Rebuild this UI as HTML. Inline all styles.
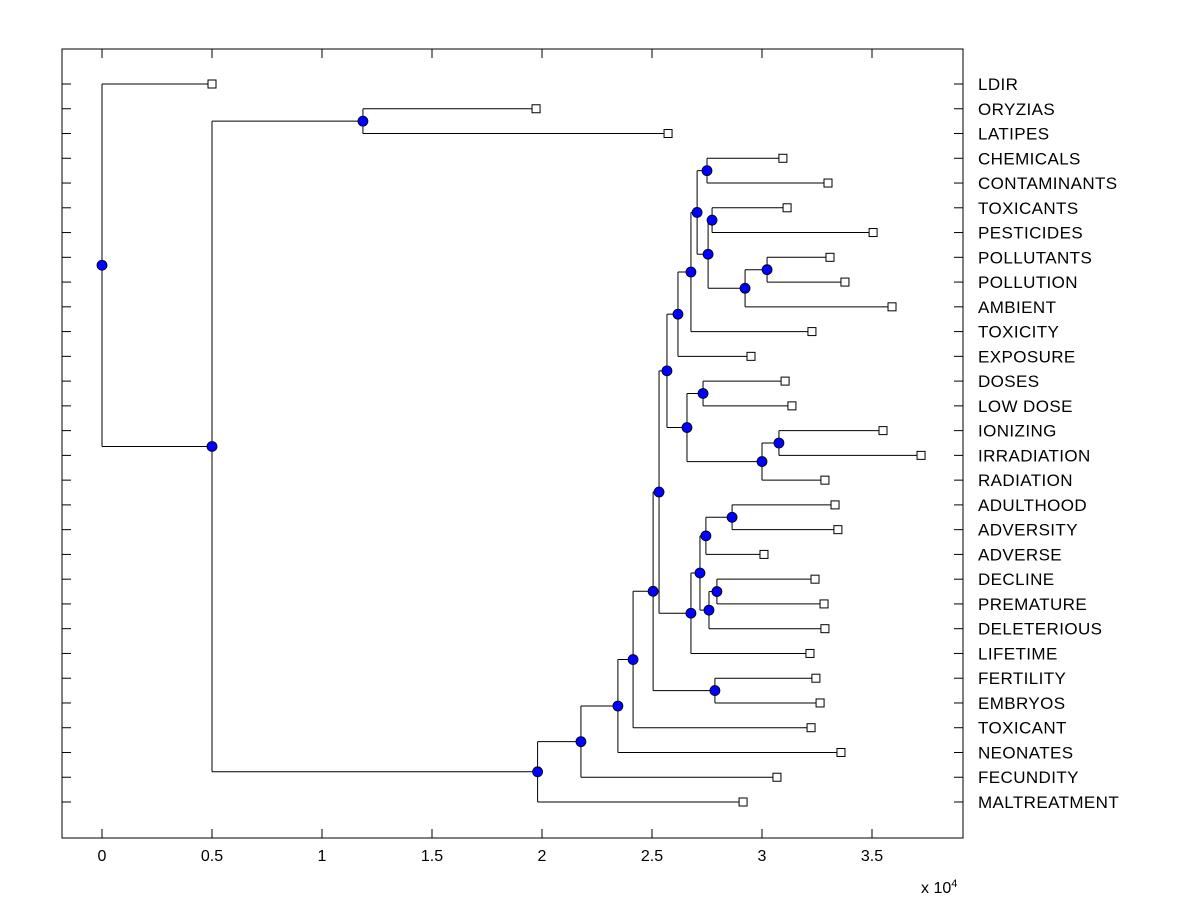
<!DOCTYPE html>
<html><head><meta charset="utf-8"><style>body{margin:0;background:#fff}svg{display:block}text{font-family:"Liberation Sans",sans-serif;font-size:16px;fill:#000}.lbl{font-size:17px;letter-spacing:0.4px}</style></head>
<body>
<svg id="c" width="1200" height="900"></svg>
<script>
const leaves=["LDIR","ORYZIAS","LATIPES","CHEMICALS","CONTAMINANTS","TOXICANTS","PESTICIDES","POLLUTANTS","POLLUTION","AMBIENT","TOXICITY","EXPOSURE","DOSES","LOW DOSE","IONIZING","IRRADIATION","RADIATION","ADULTHOOD","ADVERSITY","ADVERSE","DECLINE","PREMATURE","DELETERIOUS","LIFETIME","FERTILITY","EMBRYOS","TOXICANT","NEONATES","FECUNDITY","MALTREATMENT"];
const leafHeights=[0.5,1.973,2.573,3.095,3.3,3.114,3.505,3.309,3.377,3.591,3.227,2.95,3.105,3.136,3.55,3.723,3.286,3.332,3.345,3.009,3.241,3.282,3.286,3.218,3.245,3.264,3.223,3.359,3.068,2.914];
// internal nodes: name, child A, child B, height (x 10^4)
const nodeNames=["root","n1","n2","n3","n4","n5","n6","n7","n8","n9","n10","n11","n12","n13","n14","n15","n16","n17","n18","n19","n20","n21","n22","n23","n24","n25","n26","n27","n28"];
const nodeChildA=["LDIR","n2","ORYZIAS","n4","n5","n6","n7","n8","n10","FERTILITY","n12","n24","n14","n21","n15","n16","CHEMICALS","n18","TOXICANTS","n20","POLLUTANTS","DOSES","n23","IONIZING","n25","n27","n28","ADULTHOOD","DECLINE"];
const nodeChildB=["n1","n3","LATIPES","MALTREATMENT","FECUNDITY","NEONATES","TOXICANT","n9","n11","EMBRYOS","n13","LIFETIME","EXPOSURE","n22","TOXICITY","n17","CONTAMINANTS","n19","PESTICIDES","AMBIENT","POLLUTION","LOW DOSE","RADIATION","IRRADIATION","n26","ADVERSE","DELETERIOUS","ADVERSITY","PREMATURE"];
const nodeHeights=[0,0.5,1.186,1.98,2.177,2.345,2.414,2.505,2.532,2.786,2.568,2.677,2.618,2.659,2.677,2.705,2.75,2.755,2.773,2.923,3.023,2.732,3.0,3.077,2.718,2.745,2.759,2.864,2.795];
const xTicks=[0,0.5,1,1.5,2,2.5,3,3.5];

const NS="http://www.w3.org/2000/svg",svg=document.getElementById('c');
const L=62,R=963,T=49,B=838;
const xs=v=>102+v*220;
const ys=i=>84+i*(802-84)/(leaves.length-1);
function mk(t,a){const e=document.createElementNS(NS,t);for(const k in a)e.setAttribute(k,a[k]);svg.appendChild(e);return e;}
const frame=mk('rect',{x:L,y:T,width:R-L,height:B-T,fill:'none',stroke:'#000','stroke-width':1});


leaves.forEach((n,i)=>{const y=ys(i);
 const t1=mk('line',{x1:L,x2:L+9,y1:y,y2:y,stroke:'#000'});
 
 
 const t2=mk('line',{x1:R-9,x2:R,y1:y,y2:y,stroke:'#000'});
 
 
 const tx=mk('text',{x:978,y:y+6,'class':'lbl'});tx.textContent=n;
 
 
});
xTicks.forEach(v=>{const x=xs(v);
 const t=mk('line',{x1:x,x2:x,y1:B,y2:B-9,stroke:'#000'});
 
 
 const t3=mk('line',{x1:x,x2:x,y1:T,y2:T+9,stroke:'#000'});
 
 
 const tx=mk('text',{x:x,y:861,'text-anchor':'middle'});tx.textContent=String(v);
 
 
});
const ex=mk('text',{x:921,y:893,'font-size':'14'});ex.innerHTML='x 10<tspan dy="-6" font-size="11">4</tspan>';



const pos={};
leaves.forEach((n,i)=>pos[n]={x:xs(leafHeights[i]),y:ys(i),leaf:true});
function get(n){if(pos[n])return pos[n];const k=nodeNames.indexOf(n);const a=get(nodeChildA[k]),b=get(nodeChildB[k]);pos[n]={x:xs(nodeHeights[k]),y:(a.y+b.y)/2,a,b};return pos[n];}
nodeNames.forEach(get);
nodeNames.forEach(n=>{const p=pos[n];
 const v=mk('line',{x1:p.x,x2:p.x,y1:p.a.y,y2:p.b.y,stroke:'#000'});
 
 
 [p.a,p.b].forEach(c=>{const h=mk('line',{x1:p.x,x2:c.x,y1:c.y,y2:c.y,stroke:'#000'});
  
  });
});
leaves.forEach(n=>{const p=pos[n];const s=mk('rect',{x:p.x-4,y:p.y-4,width:8,height:8,fill:'#fff',stroke:'#000'});
 
 });
nodeNames.forEach(n=>{const p=pos[n];const c=mk('circle',{cx:p.x,cy:p.y,r:5,fill:'#0000ff',stroke:'#000','stroke-width':0.8});
 
 });
</script>
</body></html>
